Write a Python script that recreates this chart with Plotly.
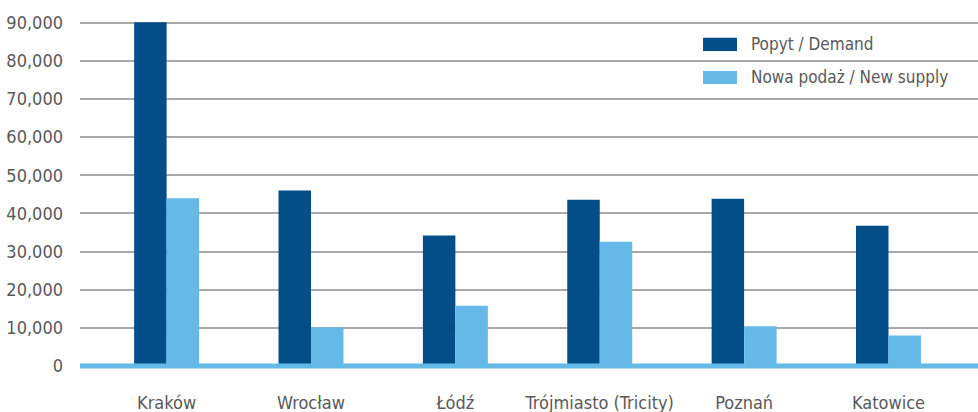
import plotly.graph_objects as go

# Office market: demand vs. new supply by city (sq m)
cities = ["Kraków", "Wrocław", "Łódź", "Trójmiasto (Tricity)", "Poznań", "Katowice"]
demand = [90100, 46000, 34200, 43600, 43850, 36750]
new_supply = [44000, 10100, 15800, 32550, 10400, 8000]

series_names = ["Popyt / Demand", "Nowa podaż / New supply"]
y_ticks = list(range(0, 90001, 10000))

DARK = "#024e89"
LIGHT = "#65b9e9"
TEXT = "#595959"
GRID = "#a9a9a9"
FONT = "DejaVu Sans Condensed, Liberation Sans Narrow, Arial Narrow, sans-serif"

fig = go.Figure()
fig.add_trace(go.Bar(x=cities, y=demand, name=series_names[0],
                     marker=dict(color=DARK, line=dict(width=0)), showlegend=False))
fig.add_trace(go.Bar(x=cities, y=new_supply, name=series_names[1],
                     marker=dict(color=LIGHT, line=dict(width=0)), showlegend=False))

# thick baseline along the bottom of the plot area, drawn over the bar bottoms
fig.add_shape(type="line", xref="paper", yref="paper", x0=0, x1=1, y0=0, y1=0,
              line=dict(color=LIGHT, width=5), layer="above")

# legend with wide swatches
legend_rows = [(series_names[0], DARK, 0.9353, 0.8974),
               (series_names[1], LIGHT, 0.8405, 0.8034)]
for label, color, top, bottom in legend_rows:
    fig.add_shape(type="rect", xref="paper", yref="paper",
                  x0=0.6938, x1=0.7316, y0=bottom, y1=top,
                  fillcolor=color, line=dict(width=0), layer="above")
    fig.add_annotation(xref="paper", yref="paper", x=0.745, y=(top + bottom) / 2,
                       text=label, showarrow=False, xanchor="left", yanchor="middle",
                       font=dict(family=FONT, size=17, color=TEXT))

fig.update_layout(
    width=978, height=412,
    margin=dict(l=80, r=0, t=15, b=46, autoexpand=False),
    paper_bgcolor="white", plot_bgcolor="white",
    barmode="group", bargap=0.55, bargroupgap=0,
    font=dict(family=FONT, size=18, color=TEXT),
)
fig.update_xaxes(range=[-0.6, 5.62], showgrid=False, showline=False, zeroline=False,
                 ticks="", ticklabelstandoff=24, automargin=False,
                 tickfont=dict(family=FONT, size=18, color=TEXT))
fig.update_yaxes(range=[0, 92000], tickvals=y_ticks, tickformat=",",
                 showgrid=True, gridcolor=GRID, gridwidth=1.5,
                 zeroline=False, showline=False, ticks="", ticklabelstandoff=16,
                 automargin=False,
                 tickfont=dict(family=FONT, size=18, color=TEXT))

fig.write_html("out.html")
